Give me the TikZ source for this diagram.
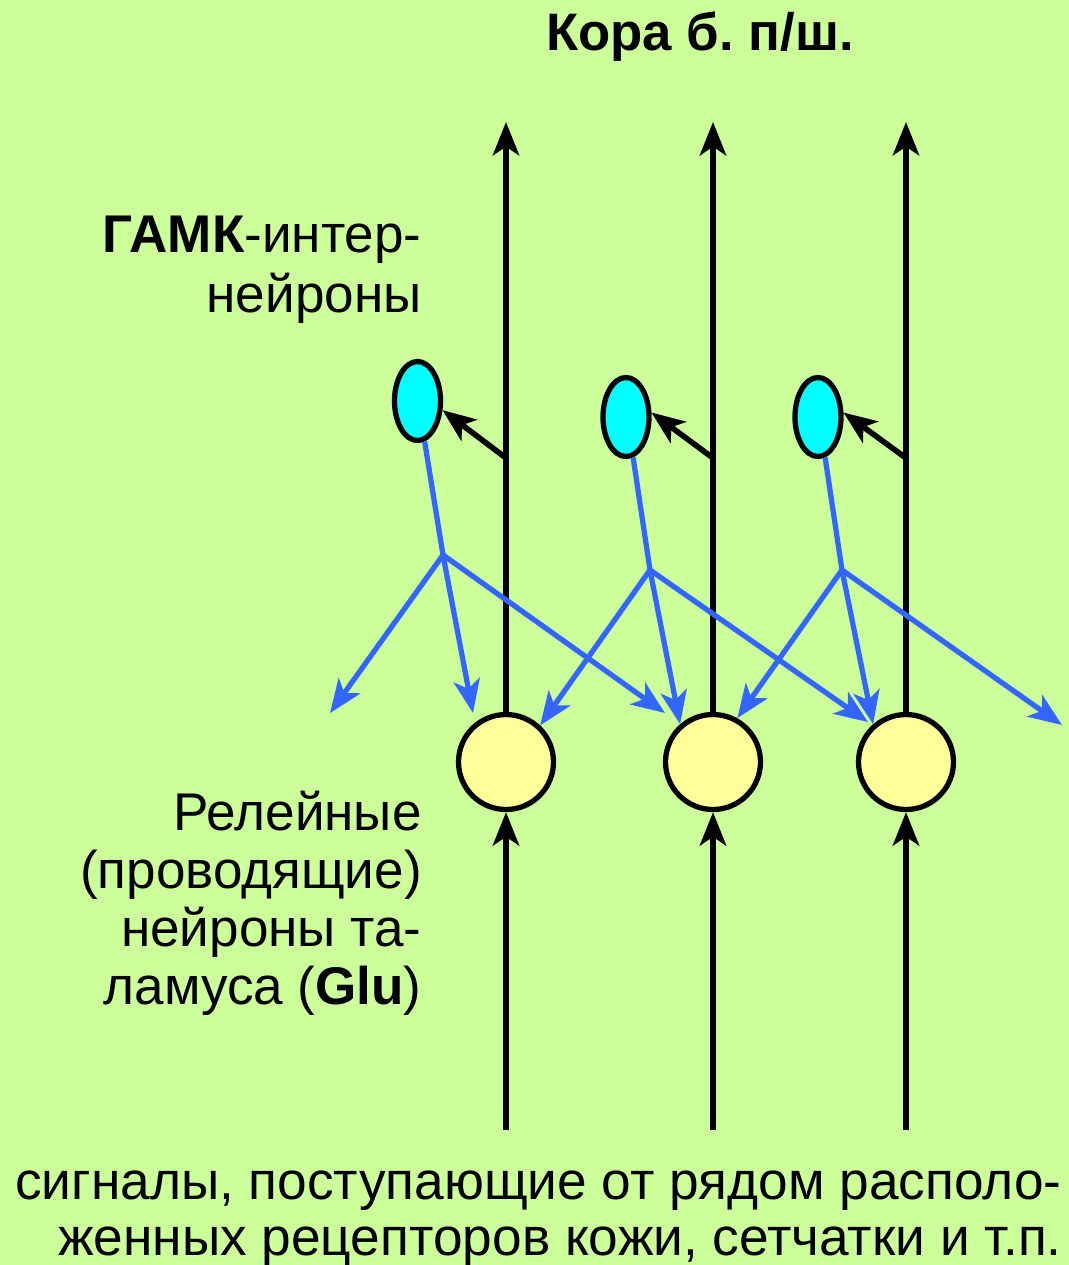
\documentclass[tikz,border=0pt]{standalone}
\usepackage{fontspec}
\setmainfont{Liberation Sans}
\usepackage{xcolor}
\usetikzlibrary{arrows.meta,calc,positioning,shapes.geometric}
\definecolor{bgcolor}{RGB}{204,255,153}
\definecolor{gababl}{RGB}{51,102,255}
\definecolor{somayel}{RGB}{255,255,153}
\definecolor{gabacy}{RGB}{0,255,255}
\frenchspacing

\begin{document}
\begin{tikzpicture}[font=\fontsize{30.2}{34}\selectfont,
  tip/.style={-{Stealth[length=19pt,width=15pt,inset=5pt]}},
  axon/.style={line width=3.2pt,tip},
  inhib/.style={line width=3pt,draw=gababl,tip},
  relay/.style={circle,draw,line width=3pt,fill=somayel,minimum size=1.9cm,inner sep=0pt},
  gaba/.style={ellipse,draw,line width=3pt,fill=gabacy,minimum width=0.92cm,minimum height=1.58cm,inner sep=0pt}]
\fill[bgcolor] (0,0) rectangle (21.38,-25.3);
\useasboundingbox (0,0) rectangle (21.38,-25.3);
% relay neurons and their axons
\foreach \i/\x in {1/10.12,2/14.26,3/18.12}{
  \node[relay] (relay\i) at (\x,-15.24) {};
  \coordinate (top\i) at (\x,-2.44);
  \coordinate (in\i) at (\x,-22.6);
  \coordinate (fork\i) at (\x,-9.16);
  \draw[axon] (relay\i.north) -- (top\i);
  \draw[axon] (in\i) -- (relay\i.south);
}
% interneurons
\node[gaba] (gaba1) at (8.35,-8.02) {};
\node[gaba] (gaba2) at (12.52,-8.34) {};
\node[gaba] (gaba3) at (16.36,-8.34) {};
\draw[axon] (fork1) -- (gaba1.-20);
\draw[axon] (fork2) -- (gaba2.10);
\draw[axon] (fork3) -- (gaba3.10);
% inhibitory branches
\coordinate (b1) at (8.86,-11.10);
\coordinate (b2) at (13.00,-11.40);
\coordinate (b3) at (16.84,-11.40);
\coordinate (t1a) at (6.60,-14.26);
\coordinate (t1b) at (9.46,-14.26);
\coordinate (t1c) at (13.30,-14.26);
\coordinate (t2c) at (17.36,-14.44);
\coordinate (t3c) at (21.24,-14.50);
\draw[inhib,-] (gaba1.-80) -- (b1);
\draw[inhib,-] (gaba2.-80) -- (b2);
\draw[inhib,-] (gaba3.-80) -- (b3);
\draw[inhib] (b1) -- (t1a);
\draw[inhib] (b1) -- (t1b);
\draw[inhib] (b1) -- (t1c);
\draw[inhib] (b2) -- (relay1.47);
\draw[inhib] (b2) -- (relay2.131);
\draw[inhib] (b2) -- (t2c);
\draw[inhib] (b3) -- (relay2.61);
\draw[inhib] (b3) -- (relay3.131);
\draw[inhib] (b3) -- (t3c);
% labels
\node[anchor=base,inner sep=0pt,font=\fontsize{30}{34}\selectfont\bfseries] (cortex) at (14.0,-1.0) {Кора б. п/ш.};
\node[anchor=base east,align=right,inner sep=0pt] (gabalbl) at (8.44,-6.24) {\textbf{ГАМК}-интер-\\нейроны};
\node[anchor=base east,align=right,inner sep=0pt,font=\fontsize{30.2}{33}\selectfont] (relaylbl) at (8.44,-20.08) {Релейные\\(проводящие)\\нейроны та-\\ламуса (\textbf{Glu})};
\node[anchor=base east,align=right,inner sep=0pt,font=\fontsize{30.3}{31.5}\selectfont] (inputlbl) at (21.24,-25.1) {сигналы, поступающие от рядом располо-\\женных рецепторов кожи, сетчатки и т.п.};
\end{tikzpicture}
\end{document}
